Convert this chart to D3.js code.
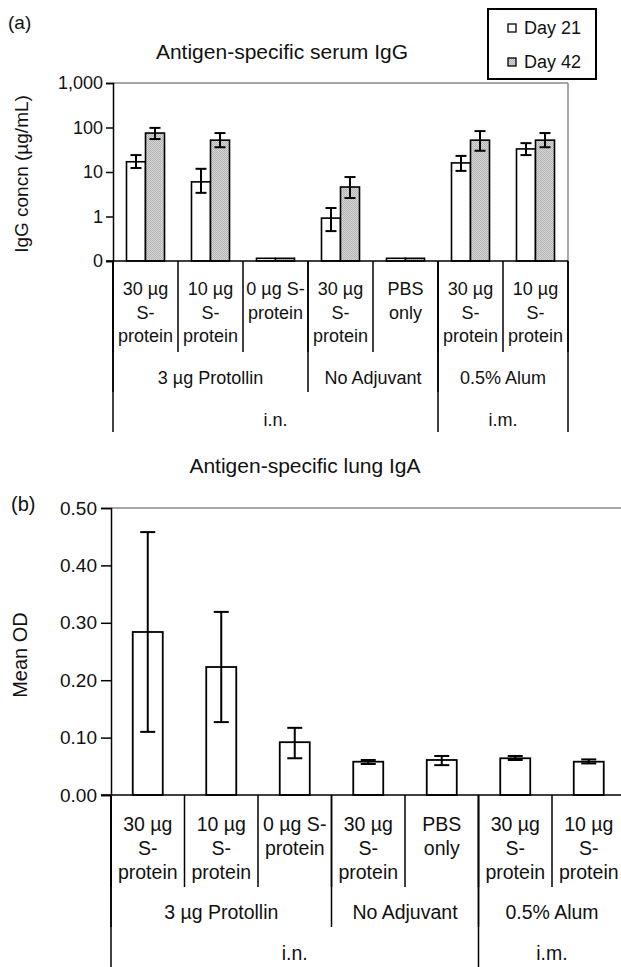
<!DOCTYPE html>
<html>
<head>
<meta charset="utf-8">
<script src="https://cdn.jsdelivr.net/npm/d3@7"></script>
<style>
  body { margin: 0; background: #fff; }
  text { font-family: Arial, "Liberation Sans", sans-serif; fill: #111; }
</style>
</head>
<body>
<svg id="fig" width="621" height="967"></svg>
<script>
// ---- data ----
let categories = ["30S", "10S", "0S", "30N", "PBS", "30A", "10A"];
let catLines = [["30 µg", "S-", "protein"], ["10 µg", "S-", "protein"], ["0 µg S-", "protein"],
                ["30 µg", "S-", "protein"], ["PBS", "only"], ["30 µg", "S-", "protein"], ["10 µg", "S-", "protein"]];
let adjuvants = ["3 µg Protollin", "No Adjuvant", "0.5% Alum"];
let adjuvantSize = [3, 2, 2];
let routes = ["i.n.", "i.m."];
let routeSize = [5, 2];
let series = ["Day 21", "Day 42"];

// serum IgG (µg/mL), log axis, "0" = 0.1
let day21 = [17, 6.0, 0.115, 0.92, 0.115, 16, 33];
let day21Lo = [12.3, 3.4, null, 0.47, null, 10.6, 24];
let day21Hi = [24, 11.8, null, 1.55, null, 23, 44.5];
let day42 = [75, 52, 0.115, 4.6, 0.115, 52, 52];
let day42Lo = [55, 36, null, 2.6, null, 30, 36];
let day42Hi = [98, 75, null, 7.7, null, 83, 75];
let igTicks = [0.1, 1, 10, 100, 1000];

// lung IgA (mean OD)
let iga = [0.284, 0.223, 0.092, 0.058, 0.061, 0.064, 0.058];
let igaLo = [0.11, 0.127, 0.064, 0.054, 0.052, 0.061, 0.055];
let igaHi = [0.458, 0.319, 0.117, 0.061, 0.068, 0.068, 0.062];
let odTicks = [0, 0.1, 0.2, 0.3, 0.4, 0.5];

let chart = d3.select("#fig");

// dotted grey fill for Day 42
let defs = chart.append("defs");
let pat = defs.append("pattern").attr("id", "dots")
    .attr("width", 2).attr("height", 2).attr("patternUnits", "userSpaceOnUse");
pat.append("rect").attr("width", 2).attr("height", 2).attr("fill", "#d6d6d6");
pat.append("rect").attr("width", 1).attr("height", 1).attr("fill", "#b4b4b4");
pat.append("rect").attr("x", 1).attr("y", 1).attr("width", 1).attr("height", 1).attr("fill", "#b4b4b4");

// draws the category / group / route table under a plot
function drawTable(x, yBase, opt) {
    let left = x.range()[0], right = x.range()[1], step = x.step();
    // category dividers
    for (let i = 0; i <= categories.length; i++) {
        chart.append("line")
            .attr("x1", left + i * step).attr("x2", left + i * step)
            .attr("y1", yBase).attr("y2", opt.catEnd)
            .attr("stroke", "#000").attr("stroke-width", 1.5);
    }
    catLines.forEach(function (lines, i) {
        lines.forEach(function (t, j) {
            chart.append("text").text(t)
                .attr("x", x(categories[i]) + step / 2)
                .attr("y", opt.row0 + j * opt.rowGap)
                .attr("text-anchor", "middle")
                .attr("dominant-baseline", "central")
                .style("font-size", opt.font + "px");
        });
    });
    // adjuvant groups
    let k = 0;
    adjuvants.forEach(function (a, i) {
        let x0 = left + k * step, x1 = left + (k + adjuvantSize[i]) * step;
        chart.append("text").text(a)
            .attr("x", (x0 + x1) / 2).attr("y", opt.groupY)
            .attr("text-anchor", "middle").attr("dominant-baseline", "central")
            .style("font-size", opt.font + "px");
        chart.append("line").attr("x1", x0).attr("x2", x0)
            .attr("y1", yBase).attr("y2", opt.groupEnd)
            .attr("stroke", "#000").attr("stroke-width", 1.5);
        k += adjuvantSize[i];
    });
    // routes
    k = 0;
    routes.forEach(function (r, i) {
        let x0 = left + k * step, x1 = left + (k + routeSize[i]) * step;
        chart.append("text").text(r)
            .attr("x", (x0 + x1) / 2).attr("y", opt.routeY)
            .attr("text-anchor", "middle").attr("dominant-baseline", "central")
            .style("font-size", opt.font + "px");
        chart.append("line").attr("x1", x0).attr("x2", x0)
            .attr("y1", yBase).attr("y2", opt.routeEnd)
            .attr("stroke", "#000").attr("stroke-width", 1.5);
        k += routeSize[i];
    });
    chart.append("line").attr("x1", right).attr("x2", right)
        .attr("y1", yBase).attr("y2", opt.routeEnd)
        .attr("stroke", "#000").attr("stroke-width", 1.5);
}

function errBars(data, xf, lo, hi, y, cap) {
    let g = chart.append("g").attr("stroke", "#000").attr("stroke-width", 2);
    data.forEach(function (d, i) {
        if (lo[i] == null) return;
        let cx = xf(i);
        g.append("line").attr("x1", cx).attr("x2", cx).attr("y1", y(lo[i])).attr("y2", y(hi[i]));
        g.append("line").attr("x1", cx - cap / 2).attr("x2", cx + cap / 2).attr("y1", y(lo[i])).attr("y2", y(lo[i]));
        g.append("line").attr("x1", cx - cap / 2).attr("x2", cx + cap / 2).attr("y1", y(hi[i])).attr("y2", y(hi[i]));
    });
}

// ================= (a) serum IgG =================
let xA = d3.scaleBand().domain(categories).range([113, 568]);
let xSub = d3.scaleBand().domain(series).range([0, xA.bandwidth()]).paddingOuter(0.71);
let yA = d3.scaleLog().domain([0.1, 1000]).range([261, 83]);

chart.append("text").text("(a)").attr("x", 8).attr("y", 29).style("font-size", "19px");
chart.append("text").text("Antigen-specific serum IgG")
    .attr("x", 282).attr("y", 59).attr("text-anchor", "middle").style("font-size", "21px");

// grey frame top / right
chart.append("line").attr("x1", 113).attr("x2", 568).attr("y1", yA(1000)).attr("y2", yA(1000))
    .attr("stroke", "#8a8a8a").attr("stroke-width", 1.5);
chart.append("line").attr("x1", 568).attr("x2", 568).attr("y1", yA(1000)).attr("y2", yA(0.1))
    .attr("stroke", "#8a8a8a").attr("stroke-width", 1.5);

let yAxisA = d3.axisLeft(yA).tickValues(igTicks).tickSize(7).tickPadding(3)
    .tickFormat(function (d) { return d < 1 ? "0" : d3.format(",")(d); });
let gA = chart.append("g").attr("transform", "translate(113,0)").call(yAxisA);
gA.select(".domain").attr("stroke-width", 1.5);
gA.selectAll(".tick line").attr("stroke-width", 1.5);
gA.selectAll(".tick text").style("font-size", "18px").attr("fill", "#111")
    .style("font-family", "Arial, 'Liberation Sans', sans-serif");

chart.append("text").text("IgG concn (µg/mL)")
    .attr("transform", "translate(28,174) rotate(-90)")
    .attr("text-anchor", "middle").style("font-size", "19px");

let barsA = [day21, day42];
barsA.forEach(function (vals, s) {
    chart.append("g").selectAll("rect").data(vals).enter().append("rect")
        .attr("x", function (d, i) { return xA(categories[i]) + xSub(series[s]); })
        .attr("width", xSub.bandwidth())
        .attr("y", function (d) { return yA(d); })
        .attr("height", function (d) { return yA(0.1) - yA(d); })
        .attr("fill", s == 0 ? "#fff" : "url(#dots)")
        .attr("stroke", "#000").attr("stroke-width", 1.6);
});
errBars(day21, function (i) { return xA(categories[i]) + xSub("Day 21") + xSub.bandwidth() / 2; }, day21Lo, day21Hi, yA, 11);
errBars(day42, function (i) { return xA(categories[i]) + xSub("Day 42") + xSub.bandwidth() / 2; }, day42Lo, day42Hi, yA, 11);

chart.append("line").attr("x1", 106).attr("x2", 568).attr("y1", yA(0.1)).attr("y2", yA(0.1))
    .attr("stroke", "#000").attr("stroke-width", 1.5);

drawTable(xA, yA(0.1), { catEnd: 352, groupEnd: 392, routeEnd: 432, row0: 289, rowGap: 23.5, groupY: 378, routeY: 420, font: 18 });

// legend
let leg = chart.append("g");
leg.append("rect").attr("x", 488).attr("y", 9).attr("width", 108).attr("height", 70)
    .attr("fill", "#fff").attr("stroke", "#000").attr("stroke-width", 2);
series.forEach(function (s, i) {
    let ly = 28 + i * 34;
    leg.append("rect").attr("x", 508).attr("y", ly - 4).attr("width", 8).attr("height", 8)
        .attr("fill", i == 0 ? "#fff" : "url(#dots)").attr("stroke", "#000").attr("stroke-width", 1.3);
    leg.append("text").text(s).attr("x", 524).attr("y", ly).attr("dominant-baseline", "central")
        .style("font-size", "18px");
});

// ================= (b) lung IgA =================
let xB = d3.scaleBand().domain(categories).range([111, 625.5]);
let yB = d3.scaleLinear().domain([0, 0.5]).range([795, 508]);
let bw = 30;

chart.append("text").text("Antigen-specific lung IgA")
    .attr("x", 305).attr("y", 473).attr("text-anchor", "middle").style("font-size", "21px");
chart.append("text").text("(b)").attr("x", 11).attr("y", 511).style("font-size", "20px");

chart.append("line").attr("x1", 111).attr("x2", 626).attr("y1", yB(0.5)).attr("y2", yB(0.5))
    .attr("stroke", "#8a8a8a").attr("stroke-width", 1.5);

let yAxisB = d3.axisLeft(yB).tickValues(odTicks).tickSize(10).tickPadding(4).tickFormat(d3.format(".2f"));
let gB = chart.append("g").attr("transform", "translate(111,0)").call(yAxisB);
gB.select(".domain").attr("stroke-width", 1.5);
gB.selectAll(".tick line").attr("stroke-width", 1.5);
gB.selectAll(".tick text").style("font-size", "19px").attr("fill", "#111")
    .style("font-family", "Arial, 'Liberation Sans', sans-serif");

chart.append("text").text("Mean OD")
    .attr("transform", "translate(27,655) rotate(-90)")
    .attr("text-anchor", "middle").style("font-size", "20px");

chart.append("g").selectAll("rect").data(iga).enter().append("rect")
    .attr("x", function (d, i) { return xB(categories[i]) + xB.bandwidth() / 2 - bw / 2; })
    .attr("width", bw)
    .attr("y", function (d) { return yB(d); })
    .attr("height", function (d) { return yB(0) - yB(d); })
    .attr("fill", "#fff").attr("stroke", "#000").attr("stroke-width", 1.8);
errBars(iga, function (i) { return xB(categories[i]) + xB.bandwidth() / 2; }, igaLo, igaHi, yB, 15);

chart.append("line").attr("x1", 101).attr("x2", 626).attr("y1", yB(0)).attr("y2", yB(0))
    .attr("stroke", "#000").attr("stroke-width", 1.5);

drawTable(xB, yB(0), { catEnd: 887, groupEnd: 927, routeEnd: 967, row0: 824, rowGap: 24, groupY: 912, routeY: 953, font: 19.5 });
</script>
</body>
</html>
